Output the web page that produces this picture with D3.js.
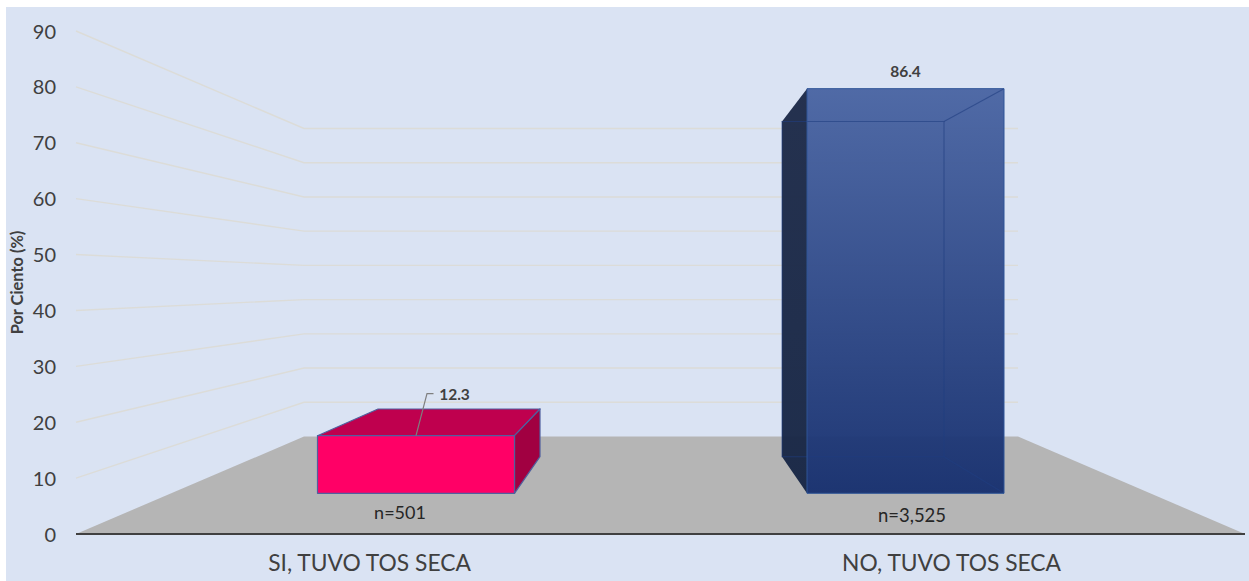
<!DOCTYPE html>
<html><head><meta charset="utf-8">
<script src="https://cdn.jsdelivr.net/npm/d3@7/dist/d3.min.js"></script>
<style>
html,body{margin:0;padding:0;background:#fff;overflow:hidden}
svg{display:block}
text{font-family:"Lato",sans-serif}
</style></head><body>
<svg id="c" width="1249" height="581"></svg>
<script>
const categories = ["SI, TUVO TOS SECA", "NO, TUVO TOS SECA"];
const values = [12.3, 86.4];
const sampleLabels = ["n=501", "n=3,525"];
const yTicks = [0,10,20,30,40,50,60,70,80,90];
const yTitle = "Por Ciento (%)";

const svg = d3.select("#c");
const W=1249,H=581;
svg.append("rect").attr("x",6).attr("y",7).attr("width",W-6).attr("height",H-7).attr("fill","#dae3f3");

const yWallFront = d3.scaleLinear().domain([0,90]).range([534,31]);
const yWallBack  = d3.scaleLinear().domain([0,90]).range([436.5,128.5]);
const yBarFront = d3.scaleLinear().domain([0,90]).range([493.3,71.8]);
const yBarBack  = d3.scaleLinear().domain([0,90]).range([456.7,107.5]);
const xBarFront = d3.scalePoint().domain(categories).range([416,905.5]);
const xBarBack  = d3.scalePoint().domain(categories).range([459,863]);
const xCat = d3.scalePoint().domain(categories).range([369,951]);
const wFront=197, wBack=162;
const X0=76, XB0=304, XB1=1018, X1=1245;

svg.append("path").attr("fill","#b5b5b5")
  .attr("d",`M${X0},${yWallFront(0)}L${XB0},${yWallBack(0)}L${XB1},${yWallBack(0)}L${X1},${yWallFront(0)}Z`);

svg.append("g").attr("fill","none").attr("stroke","#dcdcd8").attr("stroke-width",1.4)
 .selectAll("path").data(yTicks.filter(d=>d>0)).join("path")
 .attr("d",d=>`M${X0},${yWallFront(d)}L${XB0},${yWallBack(d)}L${XB1},${yWallBack(d)}`);

svg.append("line").attr("x1",X0).attr("x2",X1).attr("y1",yWallFront(0)).attr("y2",yWallFront(0))
  .attr("stroke","#404040").attr("stroke-width",2);

const ax = svg.append("g").attr("transform","translate(56,0)")
  .call(d3.axisLeft(yWallFront).tickValues(yTicks).tickSize(0).tickPadding(0));
ax.select(".domain").remove();
ax.selectAll("text").attr("fill","#404040").style("font-size","20px").style("font-family",'"Lato",sans-serif').attr("dy","0.35em");

const cx = svg.append("g").attr("transform","translate(0,555)")
  .call(d3.axisBottom(xCat).tickSize(0).tickPadding(0));
cx.select(".domain").remove();
cx.selectAll("text").attr("fill","#404040").style("font-size","22.8px").style("font-family",'"Lato",sans-serif').attr("dy","0.71em");

svg.append("text").attr("transform","translate(23,282.5) rotate(-90)").attr("text-anchor","middle")
  .attr("fill","#404040").attr("font-weight",700).attr("font-size",16.4).text(yTitle);

const defs = svg.append("defs");
const g1 = defs.append("linearGradient").attr("id","blueFront").attr("x1",0).attr("x2",0).attr("y1",0).attr("y2",1);
g1.append("stop").attr("offset",0).attr("stop-color","#4a65a3");
g1.append("stop").attr("offset",1).attr("stop-color","#17306f");
const g2 = defs.append("linearGradient").attr("id","blueSide").attr("x1",0).attr("x2",0).attr("y1",0).attr("y2",1);
g2.append("stop").attr("offset",0).attr("stop-color","#1d2a48");
g2.append("stop").attr("offset",1).attr("stop-color","#172645");

function box(i){
  const c=categories[i], v=values[i];
  const fx0=xBarFront(c)-wFront/2, fx1=xBarFront(c)+wFront/2;
  const bx0=xBarBack(c)-wBack/2, bx1=xBarBack(c)+wBack/2;
  const ft=yBarFront(v), fb=yBarFront(0), bt=yBarBack(v), bb=yBarBack(0);
  return {fx0,fx1,bx0,bx1,ft,fb,bt,bb};
}
const poly=(p)=>"M"+p.map(q=>q.join(",")).join("L")+"Z";

{
  const b=box(0), g=svg.append("g").attr("stroke","#50609f").attr("stroke-width",1.2).attr("stroke-linejoin","round");
  g.append("path").attr("fill","#bf004e").attr("d",poly([[b.fx0,b.ft],[b.fx1,b.ft],[b.bx1,b.bt],[b.bx0,b.bt]]));
  g.append("path").attr("fill","#a10041").attr("d",poly([[b.fx1,b.ft],[b.bx1,b.bt],[b.bx1,b.bb],[b.fx1,b.fb]]));
  g.append("path").attr("fill","#ff0066").attr("d",poly([[b.fx0,b.ft],[b.fx1,b.ft],[b.fx1,b.fb],[b.fx0,b.fb]]));
  const lx=xBarFront(categories[0]);
  svg.append("path").attr("fill","none").attr("stroke","#7f7f7f").attr("stroke-width",1.2)
    .attr("d",`M${lx},${b.ft}L${lx+11},${b.ft-42}L${lx+17.5},${b.ft-42}`);
  svg.append("text").attr("x",lx+38.5).attr("y",b.ft-35.5).attr("text-anchor","middle").attr("fill","#404040")
    .attr("font-weight",700).attr("font-size",15.5).text(values[0].toFixed(1));
  svg.append("text").attr("x",400).attr("y",b.fb+25.5).attr("text-anchor","middle").attr("fill","#262626")
    .attr("font-size",18).text(sampleLabels[0]);
}
{
  const b=box(1), g=svg.append("g");
  g.append("path").attr("fill","url(#blueSide)").attr("fill-opacity",.96).attr("d",poly([[b.bx0,b.bt],[b.fx0,b.ft],[b.fx0,b.fb],[b.bx0,b.bb]]));
  g.append("path").attr("fill","url(#blueFront)").attr("fill-opacity",0.96).attr("d",poly([[b.fx0,b.ft],[b.fx1,b.ft],[b.fx1,b.fb],[b.fx0,b.fb]]));
  const e=g.append("g").attr("fill","none").attr("stroke","#203d80").attr("stroke-width",1.1).attr("stroke-opacity",.6);
  e.append("path").attr("d",poly([[b.bx0,b.bt],[b.bx1,b.bt],[b.bx1,b.bb],[b.bx0,b.bb]]));
  e.append("path").attr("d",`M${b.bx1},${b.bt}L${b.fx1},${b.ft}M${b.bx1},${b.bb}L${b.fx1},${b.fb}`);
  g.append("path").attr("fill","none").attr("stroke","#2f5597").attr("stroke-width",1).attr("d",poly([[b.fx0,b.ft],[b.fx1,b.ft],[b.fx1,b.fb],[b.fx0,b.fb]]));
  svg.append("text").attr("x",xBarFront(categories[1])).attr("y",b.ft-12).attr("text-anchor","middle").attr("fill","#404040")
    .attr("font-weight",700).attr("font-size",15.5).text(values[1].toFixed(1));
  svg.append("text").attr("x",912).attr("y",b.fb+29).attr("text-anchor","middle").attr("fill","#262626")
    .attr("font-size",18.5).text(sampleLabels[1]);
}
</script>
</body></html>
